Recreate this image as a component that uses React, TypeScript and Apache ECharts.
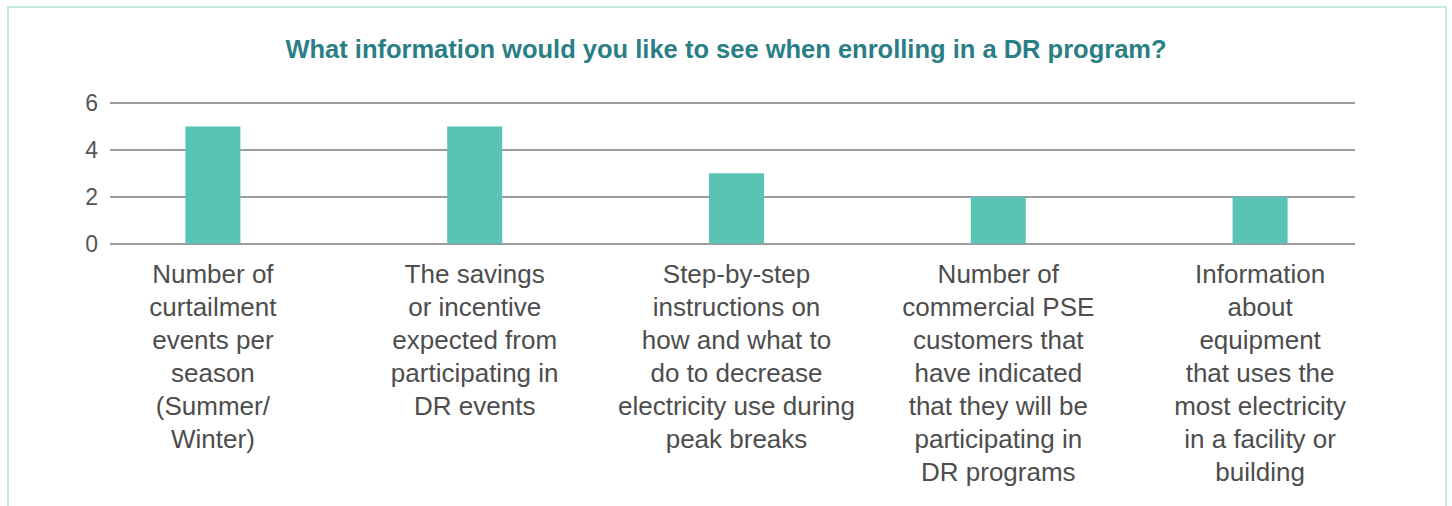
import React, { useEffect, useRef } from "react";
import * as echarts from "echarts";

const TITLE = "What information would you like to see when enrolling in a DR program?";
const CATEGORIES = [
  "Number of\ncurtailment\nevents per\nseason\n(Summer/\nWinter)",
  "The savings\nor incentive\nexpected from\nparticipating in\nDR events",
  "Step-by-step\ninstructions on\nhow and what to\ndo to decrease\nelectricity use during\npeak breaks",
  "Number of\ncommercial PSE\ncustomers that\nhave indicated\nthat they will be\nparticipating in\nDR programs",
  "Information\nabout\nequipment\nthat uses the\nmost electricity\nin a facility or\nbuilding",
];
const VALUES = [5, 5, 3, 2, 2];
const Y_MIN = 0;
const Y_MAX = 6;
const Y_STEP = 2;

export default function App() {
  const ref = useRef<HTMLDivElement>(null);
  useEffect(() => {
    if (!ref.current) return;
    const chart = echarts.init(ref.current, undefined, { renderer: "svg" });
    const font = "'Liberation Sans', Arial, Helvetica, sans-serif";
    chart.setOption({
      animation: false,
      backgroundColor: "#ffffff",
      title: {
        text: TITLE,
        left: "center",
        top: 31,
        textStyle: { color: "#2a7f86", fontSize: 25.5, fontWeight: "bold", fontFamily: font },
      },
      graphic: [
        {
          type: "rect",
          shape: { x: 8, y: 7, width: 1438, height: 620 },
          style: { fill: "none", stroke: "#c6e9e5", lineWidth: 2 },
          silent: true,
        },
      ],
      grid: [
        { left: 110, right: 97, top: 103, bottom: 262.5, containLabel: false },
        { left: 82, right: 61, top: 103, bottom: 262.5, containLabel: false },
      ],
      xAxis: [
        { type: "category", gridIndex: 0, data: CATEGORIES, show: false },
        {
          type: "category",
          gridIndex: 1,
          data: CATEGORIES,
          axisLine: { show: false },
          axisTick: { show: false },
          axisLabel: {
            interval: 0,
            margin: 14,
            color: "#4d4d4d",
            fontSize: 26,
            lineHeight: 33,
            fontFamily: font,
            verticalAlign: "top",
          },
        },
      ],
      yAxis: [
        {
          type: "value",
          gridIndex: 0,
          min: Y_MIN,
          max: Y_MAX,
          interval: Y_STEP,
          axisLine: { show: false },
          axisTick: { show: false },
          axisLabel: { color: "#555555", fontSize: 23, margin: 12, fontFamily: font },
          splitLine: { lineStyle: { color: "#9c9c9c", width: 2 } },
        },
        {
          type: "value",
          gridIndex: 1,
          min: Y_MIN,
          max: Y_MAX,
          interval: Y_STEP,
          show: false,
          splitLine: { show: false },
        },
      ],
      series: [
        {
          type: "bar",
          xAxisIndex: 1,
          yAxisIndex: 1,
          data: VALUES,
          barWidth: 55,
          itemStyle: { color: "#59c4b4" },
        },
      ],
    });
    return () => chart.dispose();
  }, []);
  return (
    <div
      ref={ref}
      style={{ position: "fixed", left: 0, top: 0, width: 1452, height: 506 }}
    />
  );
}
